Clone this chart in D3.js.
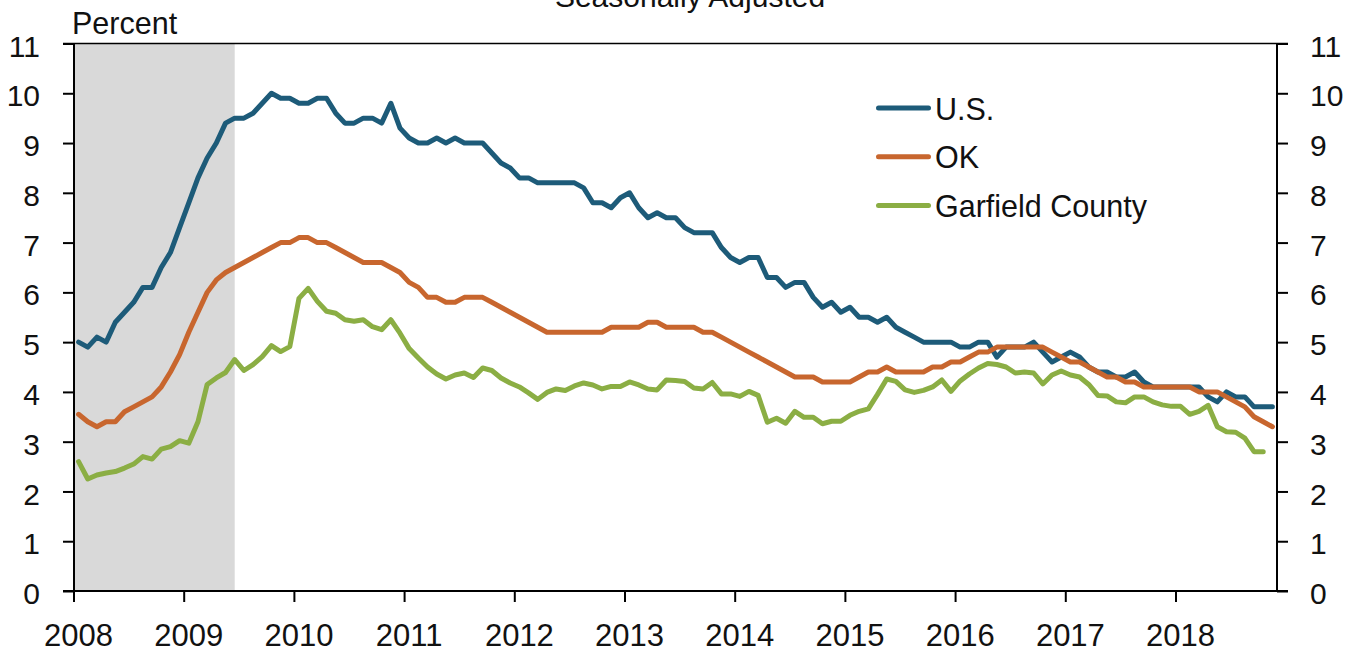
<!DOCTYPE html>
<html>
<head>
<meta charset="utf-8">
<script src="https://cdn.jsdelivr.net/npm/d3@7"></script>
<style>
  body { margin: 0; background: #fff; }
  svg text { font-family: "Liberation Sans", Arial, sans-serif; fill: #111; }
</style>
</head>
<body>
<svg id="chart" width="1353" height="653"></svg>
<script>
// monthly unemployment rates, Jan 2008 onward (seasonally adjusted, percent)
const usRate = [
  5.0, 4.9, 5.1, 5.0, 5.4, 5.6, 5.8, 6.1, 6.1, 6.5, 6.8, 7.3,
  7.8, 8.3, 8.7, 9.0, 9.4, 9.5, 9.5, 9.6, 9.8, 10.0, 9.9, 9.9,
  9.8, 9.8, 9.9, 9.9, 9.6, 9.4, 9.4, 9.5, 9.5, 9.4, 9.8, 9.3,
  9.1, 9.0, 9.0, 9.1, 9.0, 9.1, 9.0, 9.0, 9.0, 8.8, 8.6, 8.5,
  8.3, 8.3, 8.2, 8.2, 8.2, 8.2, 8.2, 8.1, 7.8, 7.8, 7.7, 7.9,
  8.0, 7.7, 7.5, 7.6, 7.5, 7.5, 7.3, 7.2, 7.2, 7.2, 6.9, 6.7,
  6.6, 6.7, 6.7, 6.3, 6.3, 6.1, 6.2, 6.2, 5.9, 5.7, 5.8, 5.6,
  5.7, 5.5, 5.5, 5.4, 5.5, 5.3, 5.2, 5.1, 5.0, 5.0, 5.0, 5.0,
  4.9, 4.9, 5.0, 5.0, 4.7, 4.9, 4.9, 4.9, 5.0, 4.8, 4.6, 4.7,
  4.8, 4.7, 4.5, 4.4, 4.4, 4.3, 4.3, 4.4, 4.2, 4.1, 4.1, 4.1,
  4.1, 4.1, 4.1, 3.9, 3.8, 4.0, 3.9, 3.9, 3.7, 3.7, 3.7
];
const okRate = [
  3.55, 3.4, 3.3, 3.4, 3.4, 3.6, 3.7, 3.8, 3.9, 4.1, 4.4, 4.75,
  5.2, 5.6, 6.0, 6.25, 6.4, 6.5, 6.6, 6.7, 6.8, 6.9, 7.0, 7.0,
  7.1, 7.1, 7.0, 7.0, 6.9, 6.8, 6.7, 6.6, 6.6, 6.6, 6.5, 6.4,
  6.2, 6.1, 5.9, 5.9, 5.8, 5.8, 5.9, 5.9, 5.9, 5.8, 5.7, 5.6,
  5.5, 5.4, 5.3, 5.2, 5.2, 5.2, 5.2, 5.2, 5.2, 5.2, 5.3, 5.3,
  5.3, 5.3, 5.4, 5.4, 5.3, 5.3, 5.3, 5.3, 5.2, 5.2, 5.1, 5.0,
  4.9, 4.8, 4.7, 4.6, 4.5, 4.4, 4.3, 4.3, 4.3, 4.2, 4.2, 4.2,
  4.2, 4.3, 4.4, 4.4, 4.5, 4.4, 4.4, 4.4, 4.4, 4.5, 4.5, 4.6,
  4.6, 4.7, 4.8, 4.8, 4.9, 4.9, 4.9, 4.9, 4.9, 4.9, 4.8, 4.7,
  4.6, 4.6, 4.5, 4.4, 4.3, 4.3, 4.2, 4.2, 4.1, 4.1, 4.1, 4.1,
  4.1, 4.1, 4.0, 4.0, 4.0, 3.9, 3.8, 3.7, 3.5, 3.4, 3.3
];
const garfieldRate = [
  2.6, 2.25, 2.33, 2.37, 2.4, 2.47, 2.55, 2.7, 2.65, 2.85, 2.9, 3.02,
  2.97, 3.4, 4.15, 4.28, 4.39, 4.65, 4.43, 4.55, 4.71, 4.93, 4.81, 4.91,
  5.88, 6.08, 5.82, 5.62, 5.58, 5.45, 5.42, 5.45, 5.31, 5.25, 5.45, 5.18,
  4.87, 4.68, 4.5, 4.36, 4.26, 4.34, 4.38, 4.29, 4.48, 4.43, 4.28, 4.18,
  4.1, 3.98, 3.85, 3.99, 4.06, 4.03, 4.12, 4.18, 4.14, 4.06, 4.11, 4.11,
  4.2, 4.14, 4.06, 4.04, 4.24, 4.23, 4.21, 4.08, 4.06, 4.19, 3.96, 3.96,
  3.91, 4.01, 3.93, 3.39, 3.47, 3.37, 3.61, 3.49, 3.49, 3.36, 3.41, 3.41,
  3.53, 3.61, 3.66, 3.95, 4.26, 4.21, 4.04, 3.99, 4.03, 4.1, 4.24, 4.01,
  4.22, 4.36, 4.48, 4.57, 4.55, 4.5, 4.38, 4.4, 4.38, 4.16, 4.34, 4.42,
  4.34, 4.3, 4.15, 3.93, 3.92, 3.8, 3.78, 3.9, 3.9, 3.8, 3.74, 3.71,
  3.71, 3.55, 3.61, 3.73, 3.3, 3.2, 3.19, 3.07, 2.8, 2.8
];
const seriesNames = ["U.S.", "OK", "Garfield County"];
const seriesColors = ["#1d5b79", "#c8662e", "#8bae44"];
const yearLabels = ["2008", "2009", "2010", "2011", "2012", "2013", "2014", "2015", "2016", "2017", "2018"];
const yTicks = [0, 1, 2, 3, 4, 5, 6, 7, 8, 9, 10, 11];
const recession = ["2008-01", "2009-06"];

const fmt = d3.timeFormat("%Y-%m");
const monthKeys = d3.timeMonth.range(new Date(2008, 0, 1), new Date(2018, 11, 1)).map(fmt);

const svg = d3.select("#chart");
const plotLeft = 74, plotRight = 1277, plotTop = 43.5, plotBottom = 591;

const x = d3.scaleBand().domain(monthKeys).range([plotLeft, plotRight]);
const y = d3.scaleLinear().domain([0, 11]).range([plotBottom, plotTop]);
const bw = x.bandwidth();

// recession shading
svg.append("rect")
  .attr("x", x(recession[0]))
  .attr("y", plotTop)
  .attr("width", x(recession[1]) + bw / 2 - x(recession[0]))
  .attr("height", plotBottom - plotTop)
  .attr("fill", "#d9d9d9");

// series lines
const line = d3.line()
  .x((d, i) => x(monthKeys[i]) + bw / 2)
  .y(d => y(d));

[usRate, okRate, garfieldRate].forEach((vals, k) => {
  svg.append("path")
    .datum(vals)
    .attr("fill", "none")
    .attr("stroke", seriesColors[k])
    .attr("stroke-width", 5)
    .attr("stroke-linejoin", "round")
    .attr("stroke-linecap", "round")
    .attr("d", line);
});

// axes
const yLeft = svg.append("g")
  .attr("transform", `translate(${plotLeft},0)`)
  .call(d3.axisLeft(y).tickValues(yTicks).tickSize(11).tickPadding(23));
const yRight = svg.append("g")
  .attr("transform", `translate(${plotRight},0)`)
  .call(d3.axisRight(y).tickValues(yTicks).tickSize(11).tickPadding(22));

const janKeys = yearLabels.map(yr => yr + "-01");
const xAxis = svg.append("g")
  .attr("transform", `translate(0,${plotBottom})`)
  .call(d3.axisBottom(x).tickValues(janKeys).tickFormat(k => k.slice(0, 4)).tickSize(11).tickPadding(22));
xAxis.selectAll(".tick line").attr("x1", -bw / 2).attr("x2", -bw / 2);

[yLeft, yRight, xAxis].forEach(g => {
  g.select(".domain").remove();
  g.selectAll(".tick line").attr("stroke", "#000").attr("stroke-width", 2);
  g.selectAll("text").attr("font-size", 30).attr("font-family", null).attr("fill", "#111");
});
xAxis.selectAll("text").attr("font-size", 31);
yLeft.selectAll("text").attr("dy", "0.42em");
yRight.selectAll("text").attr("dy", "0.42em");

// frame
const frame = svg.append("g").attr("stroke", "#000").attr("stroke-width", 2);
frame.append("line").attr("x1", plotLeft - 11).attr("x2", plotRight + 11).attr("y1", plotBottom).attr("y2", plotBottom);
frame.append("line").attr("x1", plotLeft - 11).attr("x2", plotRight + 11).attr("y1", plotTop).attr("y2", plotTop).attr("stroke-width", 1.5);
frame.append("line").attr("x1", plotLeft).attr("x2", plotLeft).attr("y1", plotTop).attr("y2", plotBottom + 11);
frame.append("line").attr("x1", plotRight).attr("x2", plotRight).attr("y1", plotTop).attr("y2", plotBottom);

// texts
svg.append("text")
  .attr("x", 72).attr("y", 34)
  .attr("font-size", 30.5)
  .text("Percent");

svg.append("text")
  .attr("x", 690).attr("y", 7)
  .attr("text-anchor", "middle")
  .attr("font-size", 30)
  .text("Seasonally Adjusted");

// legend
const legend = svg.append("g");
seriesNames.forEach((name, k) => {
  const ly = 108 + k * 48.7;
  legend.append("line")
    .attr("x1", 878.5).attr("x2", 928.5)
    .attr("y1", ly).attr("y2", ly)
    .attr("stroke", seriesColors[k])
    .attr("stroke-width", 5)
    .attr("stroke-linecap", "round");
  legend.append("text")
    .attr("x", 935).attr("y", ly + 11.5)
    .attr("font-size", 30.5)
    .text(name);
});
</script>
</body>
</html>
